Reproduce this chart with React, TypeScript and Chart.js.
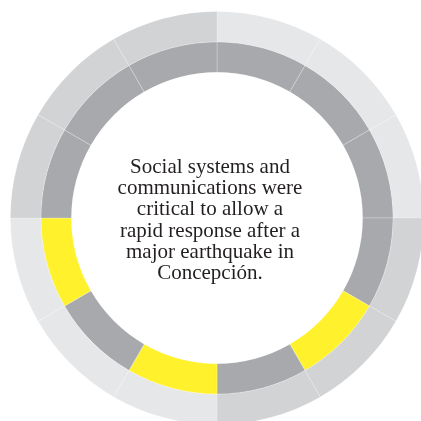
import React, { useEffect, useRef } from "react";
import { Chart, registerables } from "chart.js";

Chart.register(...registerables);

const segments = ["S1", "S2", "S3", "S4", "S5", "S6", "S7", "S8", "S9", "S10", "S11", "S12"];
const outerValues = [1, 1, 1, 1, 1, 1, 1, 1, 1, 1, 1, 1];
const innerValues = [1, 1, 1, 1, 1, 1, 1, 1, 1, 1, 1, 1];
const LIGHT = "#e6e7e8";
const MID = "#d1d3d4";
const GRAY = "#a7a9ac";
const YELLOW = "#fff22d";
const outerColors = [LIGHT, LIGHT, LIGHT, MID, MID, MID, LIGHT, LIGHT, LIGHT, MID, MID, MID];
const innerColors = [GRAY, GRAY, GRAY, GRAY, YELLOW, GRAY, YELLOW, GRAY, YELLOW, GRAY, GRAY, GRAY];
const centerLines = [
  "Social systems and",
  "communications were",
  "critical to allow a",
  "rapid response after a",
  "major earthquake in",
  "Concepción.",
];

const centerTextPlugin = {
  id: "centerText",
  afterDraw(chart: any) {
    const ctx = chart.ctx;
    const area = chart.chartArea;
    const cx = (area.left + area.right) / 2;
    const cy = (area.top + area.bottom) / 2;
    ctx.save();
    ctx.font = "21px 'Liberation Serif', 'Times New Roman', serif";
    ctx.fillStyle = "#231f20";
    ctx.textAlign = "center";
    ctx.textBaseline = "alphabetic";
    centerLines.forEach((line, i) => {
      ctx.fillText(line, cx - 7, cy - 45 + i * 21.2);
    });
    ctx.restore();
  },
};

export default function App() {
  const ref = useRef<HTMLCanvasElement>(null);
  useEffect(() => {
    if (!ref.current) return;
    const chart = new Chart(ref.current, {
      type: "doughnut",
      data: {
        labels: segments,
        datasets: [
          {
            data: outerValues,
            backgroundColor: outerColors,
            borderColor: "rgba(255,255,255,0.25)",
            borderWidth: 0.8,
          },
          {
            data: innerValues,
            backgroundColor: innerColors,
            borderColor: "rgba(255,255,255,0.3)",
            borderWidth: 0.8,
          },
        ],
      },
      options: {
        responsive: false,
        animation: false,
        cutout: "70.5%",
        layout: { padding: 0 },
        plugins: {
          legend: { display: false },
          tooltip: { enabled: false },
        },
      },
      plugins: [centerTextPlugin],
    });
    return () => chart.destroy();
  }, []);
  return (
    <div
      style={{
        position: "fixed",
        left: 0,
        top: 0,
        width: 421,
        height: 421,
        overflow: "hidden",
        background: "#fff",
      }}
    >
      <canvas
        ref={ref}
        width={414}
        height={414}
        style={{ position: "absolute", left: 10, top: 11, width: 414, height: 414 }}
      />
    </div>
  );
}
